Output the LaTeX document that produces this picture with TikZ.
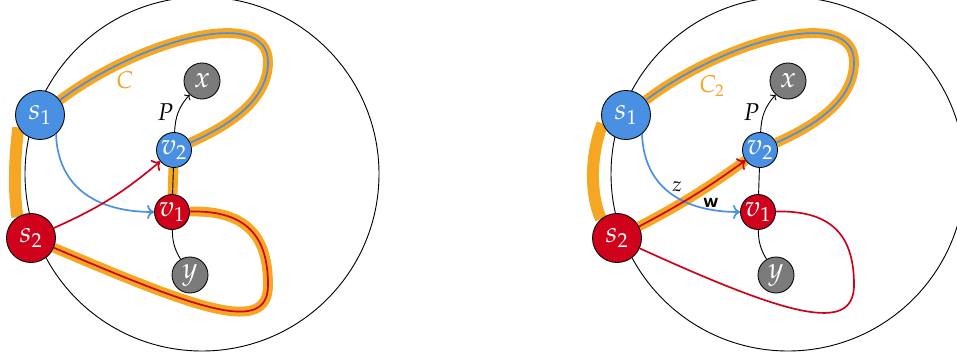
\documentclass[tikz,border=0pt]{standalone}
\usepackage{mathpazo}
\usetikzlibrary{arrows.meta,backgrounds}
\definecolor{skblue}{HTML}{4A90E2}
\definecolor{skred}{HTML}{D0021B}
\definecolor{skorange}{HTML}{F5A623}
\definecolor{skgray}{HTML}{7B7B7B}
\begin{document}
\begin{tikzpicture}[
	x=0.025cm, y=-0.025cm,
	bigsnode/.style={shape=circle, draw=black, line width=0.6pt, minimum size=1.225cm, inner sep=0pt, text=white, font=\huge},
	smallvnode/.style={shape=circle, draw=black, line width=0.6pt, minimum size=0.875cm, inner sep=0pt, text=white, font=\huge},
	greynode/.style={shape=circle, fill=skgray, draw=black, line width=0.6pt, minimum size=0.9cm, inner sep=0pt, text=white, font=\huge},
	blueline/.style={skblue, line width=1.2pt},
	redline/.style={skred, line width=1.2pt},
	blackline/.style={black, line width=0.65pt},
	orangeband/.style={skorange, line width=7pt},
	barbtip/.style={-{To[length=5pt,width=10pt]}},
	pathlabel/.style={font=\LARGE},
]
\useasboundingbox (0,0) rectangle (957,360);

\node[bigsnode, fill=skblue] (s1) at (40,115) {$s_1$};
\node[bigsnode, fill=skred] (s2) at (31,238) {$s_2$};
\node[smallvnode, fill=skblue] (v2) at (174,150) {$v_2$};
\node[smallvnode, fill=skred] (v1) at (172,212) {$v_1$};
\node[greynode] (x) at (202,81) {$x$};
\node[greynode] (y) at (190,275) {$y$};
\coordinate (topl) at (268,62);
\coordinate (botl) at (268,285);

\draw[blueline] (s1) .. controls (140,40) and (268,5) .. (topl) .. controls (268,100) and (230,125) .. (v2);
\draw[redline] (v1) .. controls (250,210) and (268,240) .. (botl) .. controls (268,335) and (200,310) .. (s2);
\draw[blueline, barbtip] (s1.-50) .. controls (58,190) and (100,212) .. (v1);
\draw[redline, barbtip] (s2) to[bend right=8] (v2);
\draw[blackline] (v2) -- (v1);
\draw[blackline] (v1) to[bend right=15] (y);
\draw[blackline, -{To[length=3pt,width=6pt]}] (v2) to[bend left=20] node[left, pathlabel] {$P$} (x);
\node[pathlabel, text=skorange] (lc) at (125,80) {$C$};

\node[bigsnode, fill=skblue] (s1b) at (626,115) {$s_1$};
\node[bigsnode, fill=skred] (s2b) at (617,238) {$s_2$};
\node[smallvnode, fill=skblue] (v2b) at (760,150) {$v_2$};
\node[smallvnode, fill=skred] (v1b) at (758,212) {$v_1$};
\node[greynode] (xb) at (788,81) {$x$};
\node[greynode] (yb) at (776,275) {$y$};
\coordinate (topr) at (854,62);
\coordinate (botr) at (854,285);

\draw[blueline] (s1b) .. controls (726,40) and (854,5) .. (topr) .. controls (854,100) and (816,125) .. (v2b);
\draw[redline] (v1b) .. controls (836,210) and (854,240) .. (botr) .. controls (854,335) and (786,315) .. (s2b);
\draw[blueline, barbtip] (s1b.-50) .. controls (644,190) and (686,212) .. (v1b);
\draw[redline, barbtip] (s2b) to[bend right=4] (v2b);
\draw[blackline] (v2b) -- (v1b);
\draw[blackline] (v1b) to[bend right=15] (yb);
\draw[blackline, -{To[length=3pt,width=6pt]}] (v2b) to[bend left=20] node[left, pathlabel] {$P$} (xb);
\node[pathlabel, text=skorange] (lc2) at (712,86) {$C_2$};
\node[font=\Large] (lz) at (677,187) {$z$};
\node[font=\Large] (lw) at (711,203) {\textsf{\textbf{w}}};

\begin{scope}[on background layer]
\draw[blackline] (202,174) circle (177);
\draw[blackline] (788,174) circle (177);
\draw[orangeband] (s1) .. controls (140,40) and (268,5) .. (topl) .. controls (268,100) and (230,125) .. (v2);
\draw[orangeband] (v2) -- (v1);
\draw[orangeband] (v1) .. controls (250,210) and (268,240) .. (botl) .. controls (268,335) and (200,310) .. (s2);
\draw[orangeband, line width=8.5pt] (s1.-150) .. controls (14,160) and (14,195) .. (s2.123);
\draw[orangeband] (s1b) .. controls (726,40) and (854,5) .. (topr) .. controls (854,100) and (816,125) .. (v2b);
\draw[orangeband] (s2b) to[bend right=4] (v2b);
\draw[orangeband, line width=8.5pt] (s1b.-160) .. controls (590,155) and (590,195) .. (s2b.130);
\end{scope}
\end{tikzpicture}
\end{document}
